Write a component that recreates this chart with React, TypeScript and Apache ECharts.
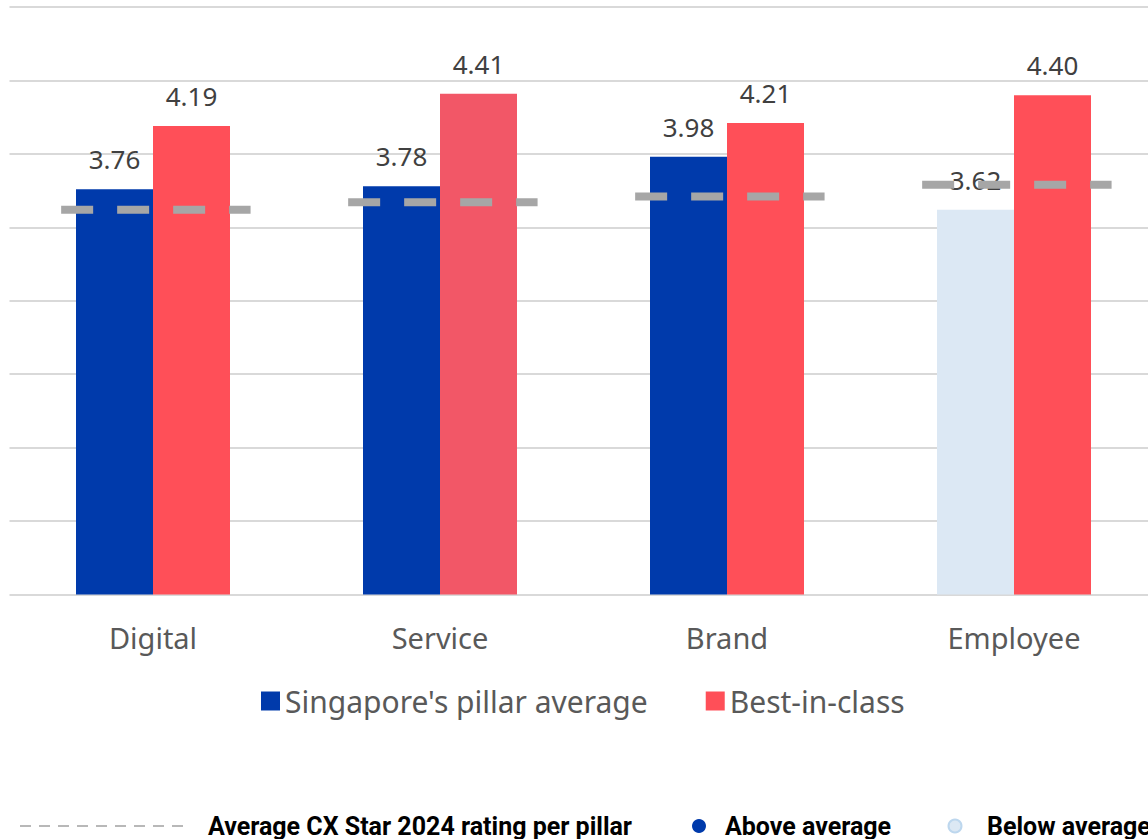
import React, { useEffect, useRef } from "react";
import * as echarts from "echarts";

const categories = ["Digital", "Service", "Brand", "Employee"];
const singaporeAverage = [3.76, 3.78, 3.98, 3.62];
const bestInClass = [4.19, 4.41, 4.21, 4.4];
const cxStarAverage = [3.62, 3.67, 3.71, 3.79];
const seriesNames = ["Singapore's pillar average", "Best-in-class"];
const bottomLegend = ["Average CX Star 2024 rating per pillar", "Above average", "Below average"];

const BLUE = "#003AAB";
const LIGHT = "#DCE8F4";
const RED = "#FF4F58";
const RED_ALT = "#F25767";
const FONT = "'Noto Sans', sans-serif";
const BOLD = "bold 25px Roboto";

export default function App() {
  const ref = useRef<HTMLDivElement>(null);
  useEffect(() => {
    if (!ref.current) return;
    const chart = echarts.init(ref.current, null, { renderer: "svg" });
    const labelCfg = {
      show: true,
      position: "top",
      distance: 17,
      fontSize: 26,
      color: "#404040",
      fontFamily: FONT,
      formatter: (p: any) => Number(p.value).toFixed(2),
    };
    chart.setOption({
      animation: false,
      textStyle: { fontFamily: FONT },
      grid: { left: 9.5, right: 2.5, top: 7, bottom: 244.5, containLabel: false },
      legend: {
        data: seriesNames,
        left: 256,
        top: 681,
        icon: "rect",
        itemWidth: 19,
        itemHeight: 19,
        itemGap: 58,
        textStyle: { fontSize: 30, color: "#595959", fontFamily: FONT },
      },
      xAxis: {
        type: "category",
        data: categories,
        axisLine: { show: false },
        axisTick: { show: false },
        axisLabel: { fontSize: 29, color: "#595959", margin: 28, fontFamily: FONT },
      },
      yAxis: {
        type: "value",
        min: 1,
        max: 5,
        interval: 0.5,
        axisLabel: { show: false },
        axisLine: { show: false },
        axisTick: { show: false },
        splitLine: { lineStyle: { color: "#D9D9D9", width: 2 } },
      },
      series: [
        {
          name: seriesNames[0],
          type: "bar",
          barWidth: 77,
          barGap: "0%",
          itemStyle: { color: BLUE },
          label: labelCfg,
          data: singaporeAverage.map((v, i) => ({
            value: v,
            itemStyle: { color: v >= cxStarAverage[i] ? BLUE : LIGHT },
          })),
        },
        {
          name: seriesNames[1],
          type: "bar",
          barWidth: 77,
          barGap: "0%",
          itemStyle: { color: RED },
          label: labelCfg,
          data: bestInClass.map((v, i) => ({
            value: v,
            itemStyle: { color: i === 1 ? RED_ALT : RED },
          })),
        },
        {
          name: "avg",
          type: "custom",
          z: 10,
          data: cxStarAverage.map((v, i) => [i, v]),
          renderItem: (params: any, api: any) => {
            const c = api.coord([api.value(0), api.value(1)]);
            const w = api.size([1, 0])[0];
            return {
              type: "line",
              shape: { x1: c[0] - 0.32 * w, y1: c[1], x2: c[0] + 0.34 * w, y2: c[1] },
              style: { stroke: "#A6A6A6", lineWidth: 8, lineDash: [32, 24] },
            };
          },
        },
      ],
      graphic: [
        {
          type: "line",
          shape: { x1: 20, y1: 826, x2: 190, y2: 826 },
          style: { stroke: "#B8B8B8", lineWidth: 2, lineDash: [11, 8] },
        },
        {
          type: "text",
          x: 208,
          y: 826,
          style: { text: bottomLegend[0], font: BOLD, fill: "#000", verticalAlign: "middle" },
        },
        { type: "circle", shape: { cx: 699, cy: 826, r: 7 }, style: { fill: BLUE } },
        {
          type: "text",
          x: 725,
          y: 826,
          style: { text: bottomLegend[1], font: BOLD, fill: "#000", verticalAlign: "middle" },
        },
        {
          type: "circle",
          shape: { cx: 955, cy: 826, r: 6.5 },
          style: { fill: LIGHT, stroke: "#BDD7EE", lineWidth: 2 },
        },
        {
          type: "text",
          x: 987,
          y: 826,
          style: { text: bottomLegend[2], font: BOLD, fill: "#000", verticalAlign: "middle" },
        },
      ],
    });
    return () => chart.dispose();
  }, []);
  return (
    <div
      style={{ position: "absolute", left: 0, top: 0, width: 1148, height: 839, overflow: "hidden", background: "#fff" }}
    >
      <div ref={ref} style={{ width: 1160, height: 839 }} />
    </div>
  );
}
